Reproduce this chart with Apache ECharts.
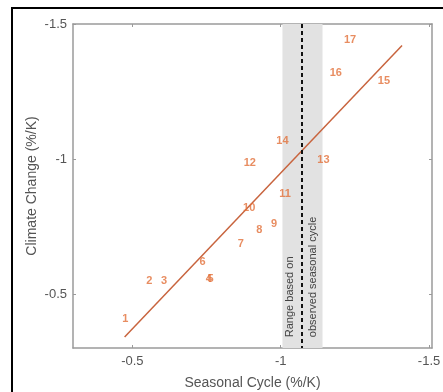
<!DOCTYPE html>
<html>
<head>
<meta charset="utf-8">
<script src="https://cdn.jsdelivr.net/npm/echarts@6/dist/echarts.min.js"></script>
<style>
  html, body { margin: 0; padding: 0; background: #fff; }
  #chart { width: 443px; height: 392px; }
</style>
</head>
<body>
<div id="chart"></div>
<script>
// model numbers and their positions
var modelIds = ['1', '2', '3', '4', '5', '6', '7', '8', '9', '10', '11', '12', '13', '14', '15', '16', '17'];
var seasonal = [-0.476, -0.557, -0.607, -0.758, -0.764, -0.737, -0.866, -0.928, -0.978, -0.894, -1.015, -0.896, -1.144, -1.006, -1.348, -1.186, -1.234];
var climate = [-0.407, -0.548, -0.548, -0.557, -0.557, -0.619, -0.686, -0.737, -0.758, -0.817, -0.870, -0.986, -0.995, -1.068, -1.289, -1.320, -1.441];

// fitted line end points
var fitX = [-0.474, -1.409];
var fitY = [-0.341, -1.420];

// observed range and centre
var obsRange = [-1.006, -1.141];
var obsCenter = -1.073;

var tickValues = [-0.5, -1, -1.5];

var chart = echarts.init(document.getElementById('chart'));

var points = [];
for (var i = 0; i < modelIds.length; i++) {
    points.push([seasonal[i], climate[i], modelIds[i]]);
}
var fitLine = [];
for (var j = 0; j < fitX.length; j++) {
    fitLine.push([fitX[j], fitY[j]]);
}

var axisColor = '#9a9a9a';
var labelStyle = { color: '#555', fontSize: 13, fontFamily: 'Liberation Sans' };

var option = {
    animation: false,
    grid: { left: 73, top: 24, right: 11, bottom: 44, outerBoundsMode: 'none', containLabel: false },
    xAxis: [{
        type: 'value',
        inverse: true,
        min: -1.51,
        max: -0.3,
        name: 'Seasonal Cycle (%/K)',
        nameLocation: 'middle',
        nameGap: 28,
        nameTextStyle: { color: '#555', fontSize: 14, fontFamily: 'Liberation Sans' },
        axisLine: { onZero: false, lineStyle: { color: axisColor, width: 1.5 } },
        axisTick: { inside: true, length: 3, customValues: tickValues, lineStyle: { color: axisColor } },
        axisLabel: Object.assign({ customValues: tickValues, margin: 7 }, labelStyle),
        splitLine: { show: false }
    }, {
        type: 'value',
        position: 'top',
        inverse: true,
        min: -1.51,
        max: -0.3,
        axisLine: { onZero: false, lineStyle: { color: axisColor, width: 1.5 } },
        axisTick: { inside: true, length: 3, customValues: tickValues, lineStyle: { color: axisColor } },
        axisLabel: { show: false },
        splitLine: { show: false }
    }],
    yAxis: [{
        type: 'value',
        inverse: true,
        min: -1.5,
        max: -0.3,
        name: 'Climate Change (%/K)',
        nameLocation: 'middle',
        nameGap: 34,
        nameMoveOverlap: false,
        nameTextStyle: { color: '#555', fontSize: 14, fontFamily: 'Liberation Sans' },
        axisLine: { show: true, onZero: false, lineStyle: { color: axisColor, width: 1.5 } },
        axisTick: { show: true, inside: true, length: 3, customValues: tickValues, lineStyle: { color: axisColor } },
        axisLabel: Object.assign({ customValues: tickValues, margin: 6 }, labelStyle),
        splitLine: { show: false }
    }, {
        type: 'value',
        position: 'right',
        inverse: true,
        min: -1.5,
        max: -0.3,
        axisLine: { show: true, onZero: false, lineStyle: { color: axisColor, width: 1.5 } },
        axisTick: { show: true, inside: true, length: 3, customValues: tickValues, lineStyle: { color: axisColor } },
        axisLabel: { show: false },
        splitLine: { show: false }
    }],
    series: [{
        // observed range band + centre line
        type: 'line',
        data: [],
        silent: true,
        markArea: {
            silent: true,
            itemStyle: { color: '#e2e2e2' },
            data: [[{ xAxis: obsRange[0] }, { xAxis: obsRange[1] }]]
        },
        markLine: {
            silent: true,
            symbol: 'none',
            label: { show: false },
            lineStyle: { color: '#111', width: 2, type: [4, 3] },
            data: [{ xAxis: obsCenter }]
        },
        z: 1
    }, {
        type: 'line',
        data: fitLine,
        symbol: 'none',
        lineStyle: { color: '#c8643e', width: 1.5 },
        z: 3
    }, {
        type: 'scatter',
        data: points,
        symbolSize: 0,
        label: {
            show: true,
            position: 'inside',
            formatter: function (p) { return p.data[2]; },
            color: '#e2703a',
            fontSize: 11,
            fontWeight: 'bold',
            fontFamily: 'Liberation Sans'
        },
        z: 4
    }]
};

chart.setOption(option);

// vertical note inside the band
var baseY = chart.convertToPixel({ yAxisIndex: 0 }, -0.34);
var x1 = chart.convertToPixel({ xAxisIndex: 0 }, obsCenter) - 12;
var x2 = chart.convertToPixel({ xAxisIndex: 0 }, obsCenter) + 10.5;
chart.setOption({
    graphic: [{
        type: 'rect',
        shape: { x: 12, y: 8, width: 500, height: 500 },
        style: { fill: 'none', stroke: '#000', lineWidth: 2 },
        silent: true
    }, {
        type: 'text',
        x: x1,
        y: baseY,
        rotation: Math.PI / 2,
        style: { text: 'Range based on', fill: '#444', fontSize: 11, fontFamily: 'Liberation Sans', align: 'left', verticalAlign: 'middle' },
        z: 5
    }, {
        type: 'text',
        x: x2,
        y: baseY,
        rotation: Math.PI / 2,
        style: { text: 'observed seasonal cycle', fill: '#444', fontSize: 11, fontFamily: 'Liberation Sans', align: 'left', verticalAlign: 'middle' },
        z: 5
    }]
});
</script>
</body>
</html>
